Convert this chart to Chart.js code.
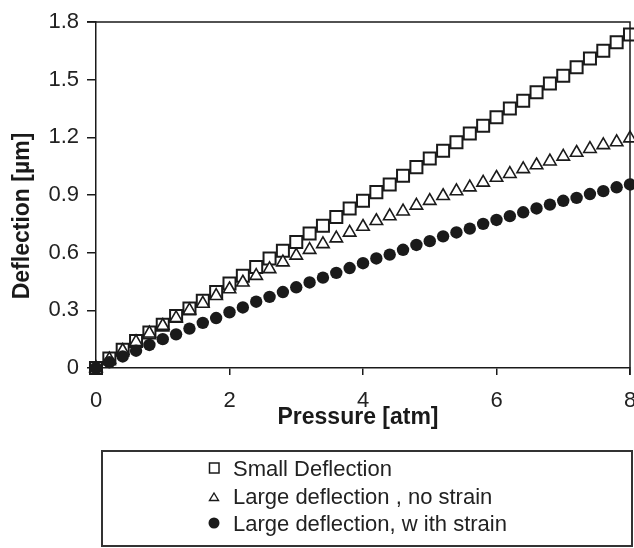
<!DOCTYPE html>
<html>
<head>
<meta charset="utf-8">
<script src="https://cdn.jsdelivr.net/npm/chart.js@4"></script>
<style>
  body { margin: 0; background: #fff; }
  #wrap { position: relative; width: 634px; height: 548px; }
  #legend {
    position: absolute; left: 101px; top: 450px; width: 423px; height: 90px;
    border: 2px solid #333; padding: 3px 0 0 105px;
    font: 22px "Liberation Sans", Arial, sans-serif; color: #222; line-height: 27.5px;
  }
  #legend svg { vertical-align: 2px; }
</style>
</head>
<body>
<div id="wrap">
  <canvas id="myChart" width="634" height="548"></canvas>
  <div id="legend"></div>
</div>
<script>
// Pressure values [atm]
const pressure = [
  0, 0.2, 0.4, 0.6, 0.8, 1.0, 1.2, 1.4, 1.6, 1.8, 2.0, 2.2, 2.4, 2.6, 2.8, 3.0,
  3.2, 3.4, 3.6, 3.8, 4.0, 4.2, 4.4, 4.6, 4.8, 5.0, 5.2, 5.4, 5.6, 5.8, 6.0,
  6.2, 6.4, 6.6, 6.8, 7.0, 7.2, 7.4, 7.6, 7.8, 8.0,
];

// Deflection [um]
const smallDeflection = [
  0, 0.05, 0.095, 0.14, 0.185, 0.225, 0.27, 0.31, 0.35, 0.395, 0.44, 0.48, 0.525, 0.57, 0.61, 0.655,
  0.70, 0.74, 0.785, 0.83, 0.87, 0.915, 0.955, 1.0, 1.045, 1.09, 1.13, 1.175, 1.22, 1.26, 1.305,
  1.35, 1.39, 1.435, 1.48, 1.52, 1.565, 1.61, 1.65, 1.695, 1.735,
];
const largeNoStrain = [
  0, 0.045, 0.09, 0.135, 0.18, 0.22, 0.26, 0.30, 0.335, 0.375, 0.41, 0.445, 0.48, 0.515, 0.55, 0.585,
  0.615, 0.645, 0.675, 0.705, 0.735, 0.765, 0.79, 0.815, 0.845, 0.87, 0.895, 0.92, 0.94, 0.965, 0.99,
  1.01, 1.035, 1.055, 1.075, 1.10, 1.12, 1.14, 1.16, 1.175, 1.195,
];
const largeWithStrain = [
  0, 0.03, 0.06, 0.09, 0.12, 0.15, 0.175, 0.205, 0.235, 0.26, 0.29, 0.315, 0.345, 0.37, 0.395, 0.42,
  0.445, 0.47, 0.495, 0.52, 0.545, 0.57, 0.59, 0.615, 0.64, 0.66, 0.685, 0.705, 0.725, 0.75, 0.77,
  0.79, 0.81, 0.83, 0.85, 0.87, 0.885, 0.905, 0.92, 0.94, 0.955,
];

const seriesNames = [
  "Small Deflection",
  "Large deflection , no strain",
  "Large deflection, w ith strain",
];

// Tick values and labels
const xTicks = [0, 2, 4, 6, 8];
const xTickLabels = ["0", "2", "4", "6", "8"];
const yTicks = [0, 0.3, 0.6, 0.9, 1.2, 1.5, 1.8];
const yTickLabels = ["0", "0.3", "0.6", "0.9", "1.2", "1.5", "1.8"];

const xTitle = "Pressure [atm]";
const yTitle = "Deflection [\u00b5m]";

const FONT = '"Liberation Sans", Arial, sans-serif';
const INK = "#1a1a1a";

const toPoints = (ys) => pressure.map((p, i) => ({ x: p, y: ys[i] }));

// box around the plot + axis titles
const frameAndTitles = {
  id: "frameAndTitles",
  afterDraw(chart) {
    const { ctx, chartArea: a } = chart;
    ctx.save();
    ctx.strokeStyle = INK;
    ctx.lineWidth = 1.5;
    ctx.beginPath();
    ctx.moveTo(a.left - 9, a.top);
    ctx.lineTo(a.right, a.top);
    ctx.lineTo(a.right, a.bottom + 7);
    ctx.stroke();

    ctx.fillStyle = INK;
    ctx.font = "bold 23px " + FONT;
    ctx.textAlign = "center";
    ctx.textBaseline = "middle";
    ctx.fillText(xTitle, 358, 418);
    ctx.translate(23, 216);
    ctx.rotate(-Math.PI / 2);
    ctx.fillText(yTitle, 0, 0);
    ctx.restore();
  },
};

new Chart(document.querySelector("#myChart"), {
  type: "scatter",
  data: {
    datasets: [
      {
        label: seriesNames[0],
        data: toPoints(smallDeflection),
        pointStyle: "rect",
        pointRadius: 8.5,
        pointBackgroundColor: "#fff",
        pointBorderColor: INK,
        pointBorderWidth: 2,
        clip: false,
        order: 2,
      },
      {
        label: seriesNames[1],
        data: toPoints(largeNoStrain),
        pointStyle: "triangle",
        pointRadius: 7.2,
        pointBackgroundColor: "#fff",
        pointBorderColor: INK,
        pointBorderWidth: 1.6,
        clip: false,
        order: 1,
      },
      {
        label: seriesNames[2],
        data: toPoints(largeWithStrain),
        pointStyle: "circle",
        pointRadius: 6.2,
        pointBackgroundColor: INK,
        pointBorderColor: INK,
        pointBorderWidth: 0,
        clip: false,
        order: 0,
      },
    ],
  },
  options: {
    responsive: false,
    animation: false,
    events: [],
    layout: { autoPadding: false, padding: { top: 22, right: 4, left: 0, bottom: 0 } },
    scales: {
      x: {
        type: "linear",
        min: 0,
        max: 8,
        afterBuildTicks: (s) => { s.ticks = xTicks.map((v) => ({ value: v })); },
        afterFit: (s) => { s.height = 180; s.paddingLeft = 0; s.paddingRight = 0; },
        ticks: {
          font: { family: FONT, size: 22 },
          color: "#222",
          padding: 13,
          maxRotation: 0,
          callback: (v, i) => xTickLabels[i],
        },
        grid: { drawOnChartArea: false, tickLength: 7, color: INK, lineWidth: 1.5 },
        border: { color: INK, width: 1.5 },
      },
      y: {
        min: 0,
        max: 1.8,
        afterBuildTicks: (s) => { s.ticks = yTicks.map((v) => ({ value: v })); },
        afterFit: (s) => { s.width = 96; s.paddingTop = 0; s.paddingBottom = 0; },
        ticks: {
          font: { family: FONT, size: 22 },
          color: "#222",
          padding: 8,
          callback: (v, i) => yTickLabels[i],
        },
        grid: { drawOnChartArea: false, tickLength: 9, color: INK, lineWidth: 1.5 },
        border: { color: INK, width: 1.5 },
      },
    },
    plugins: {
      legend: { display: false },
      tooltip: { enabled: false },
    },
  },
  plugins: [frameAndTitles],
});

// legend below the chart, boxed
const legendSymbols = [
  '<svg width="25" height="12"><rect x="1.5" y="1" width="9.5" height="10" fill="#fff" stroke="#1a1a1a" stroke-width="1.5"/></svg>',
  '<svg width="25" height="12"><polygon points="6,3 10.5,10.5 1.5,10.5" fill="#fff" stroke="#1a1a1a" stroke-width="1.4"/></svg>',
  '<svg width="25" height="12"><circle cx="6" cy="6" r="5.5" fill="#1a1a1a"/></svg>',
];
document.querySelector("#legend").innerHTML = seriesNames
  .map((name, i) => `<div>${legendSymbols[i]}${name}</div>`)
  .join("");
</script>
</body>
</html>
